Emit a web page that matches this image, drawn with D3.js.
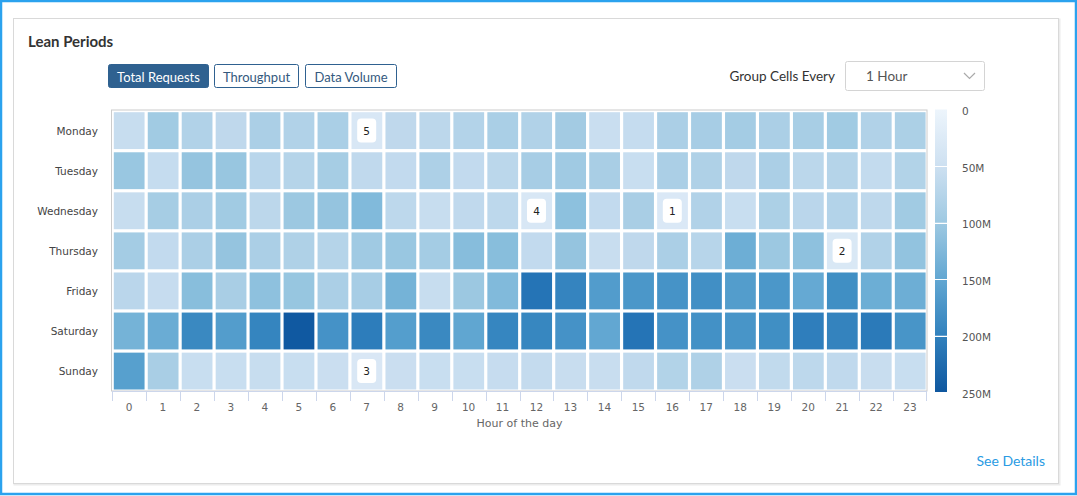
<!DOCTYPE html>
<html>
<head>
<meta charset="utf-8">
<script src="https://cdn.jsdelivr.net/npm/d3@7/dist/d3.min.js"></script>
<style>
body { margin: 0; background: #fff; }
svg { display: block; }
</style>
</head>
<body>
<svg id="chart" width="1077" height="496"></svg>
<script>
(function(){
'use strict';

var days = ['Monday', 'Tuesday', 'Wednesday', 'Thursday', 'Friday', 'Saturday', 'Sunday'];
var hours = ['0', '1', '2', '3', '4', '5', '6', '7', '8', '9', '10', '11',
             '12', '13', '14', '15', '16', '17', '18', '19', '20', '21', '22', '23'];

// total requests per hour, in millions
var monday    = [58, 97, 82, 68, 88, 82, 89, 34, 68, 71, 80, 89, 82, 96, 55, 60, 88, 92, 95, 88, 91, 97, 82, 87];
var tuesday   = [104, 60, 108, 105, 74, 78, 93, 66, 64, 86, 64, 72, 92, 98, 90, 56, 88, 84, 68, 88, 72, 78, 63, 81];
var wednesday = [58, 93, 88, 97, 71, 102, 108, 124, 70, 58, 66, 70, 33, 114, 64, 90, 30, 82, 56, 87, 73, 80, 69, 97];
var thursday  = [95, 64, 88, 108, 88, 84, 78, 98, 104, 95, 119, 118, 64, 108, 57, 68, 88, 76, 140, 102, 113, 31, 82, 110];
var friday    = [73, 59, 118, 90, 113, 106, 88, 92, 134, 58, 102, 124, 215, 196, 165, 172, 177, 182, 164, 172, 147, 183, 141, 140];
var saturday  = [134, 143, 190, 164, 195, 248, 178, 205, 163, 190, 152, 194, 193, 178, 150, 215, 178, 180, 175, 183, 203, 197, 208, 175];
var sunday    = [160, 90, 56, 56, 58, 56, 54, 32, 54, 56, 56, 59, 62, 57, 57, 66, 81, 84, 54, 65, 70, 66, 57, 56];

var leanRanks = [
    {day: 'Wednesday', hour: '16', rank: 1},
    {day: 'Thursday', hour: '21', rank: 2},
    {day: 'Sunday', hour: '7', rank: 3},
    {day: 'Wednesday', hour: '12', rank: 4},
    {day: 'Monday', hour: '7', rank: 5}
];

var legendTicks = [0, 50, 100, 150, 200, 250];
var legendLabels = ['0', '50M', '100M', '150M', '200M', '250M'];
var modes = ['Total Requests', 'Throughput', 'Data Volume'];

var rows = [monday, tuesday, wednesday, thursday, friday, saturday, sunday];
var cells = [];
rows.forEach(function(row, d) {
    row.forEach(function(v, h) {
        cells.push({day: days[d], hour: hours[h], value: v});
    });
});

var uiFont = 'Lato, "Open Sans", sans-serif',
    chartFont = '"DejaVu Sans", Verdana, sans-serif';

var svg = d3.select('#chart');

// outer selection frame and card
svg.append('rect')
    .attr('x', 1).attr('y', 1).attr('width', 1075).attr('height', 493)
    .attr('fill', 'none').attr('stroke', '#2ba2ee').attr('stroke-width', 2.5);
svg.append('rect')
    .attr('x', 14.5).attr('y', 19.5).attr('width', 1045).attr('height', 465)
    .attr('fill', 'none').attr('stroke', '#ececec').attr('stroke-width', 2);
svg.append('rect')
    .attr('x', 13.5).attr('y', 18.5).attr('width', 1045).attr('height', 465)
    .attr('fill', '#fff').attr('stroke', '#d9d9d9');

svg.append('text')
    .attr('x', 28).attr('y', 47)
    .attr('font-family', uiFont).attr('font-size', 15).attr('font-weight', 700)
    .attr('fill', '#333')
    .text('Lean Periods');

// mode buttons
var btnX = [108, 214, 305], btnW = [101, 85, 92];
var btns = svg.selectAll('g.btn').data(modes).enter().append('g')
    .attr('class', 'btn')
    .attr('transform', function(d, i) { return 'translate(' + btnX[i] + ',64)'; });
btns.append('rect')
    .attr('x', 0.5).attr('y', 0.5)
    .attr('width', function(d, i) { return btnW[i] - 1; })
    .attr('height', 23)
    .attr('rx', 2)
    .attr('fill', function(d, i) { return i === 0 ? '#2f6190' : '#fff'; })
    .attr('stroke', '#2f6190');
btns.append('text')
    .attr('x', function(d, i) { return btnW[i] / 2; })
    .attr('y', 12.5)
    .attr('text-anchor', 'middle').attr('dominant-baseline', 'central')
    .attr('font-family', uiFont).attr('font-size', 13)
    .attr('fill', function(d, i) { return i === 0 ? '#fff' : '#34597e'; })
    .text(function(d) { return d; });

// group cells dropdown
svg.append('text')
    .attr('x', 835).attr('y', 75.5)
    .attr('text-anchor', 'end').attr('dominant-baseline', 'central')
    .attr('font-family', uiFont).attr('font-size', 13.5).attr('fill', '#333')
    .text('Group Cells Every');
svg.append('rect')
    .attr('x', 845.5).attr('y', 61.5).attr('width', 139).attr('height', 29)
    .attr('rx', 2).attr('fill', '#fff').attr('stroke', '#d4d4d4');
svg.append('text')
    .attr('x', 866).attr('y', 76)
    .attr('dominant-baseline', 'central')
    .attr('font-family', uiFont).attr('font-size', 13.5).attr('fill', '#555')
    .text('1 Hour');
svg.append('path')
    .attr('d', 'M964,73 L969.5,78.5 L975,73')
    .attr('fill', 'none').attr('stroke', '#aaa').attr('stroke-width', 1.2);

// heatmap
var x = d3.scaleBand().domain(hours).range([112, 927]),
    y = d3.scaleBand().domain(days).range([110.5, 391]);

var color = function(v) {
    var t = Math.max(0, Math.min(v, 250)) / 250;
    return d3.interpolateBlues(0.05 + 0.8 * t);
};

svg.append('rect')
    .attr('x', 111.5).attr('y', 110).attr('width', 815.5).attr('height', 281)
    .attr('fill', 'none').attr('stroke', '#cccccc');

svg.append('g').attr('class', 'cells')
    .selectAll('rect').data(cells).enter().append('rect')
    .attr('x', function(d) { return x(d.hour) + 1.8; })
    .attr('y', function(d) { return y(d.day) + 1.7; })
    .attr('width', x.bandwidth() - 3.2)
    .attr('height', y.bandwidth() - 3.2)
    .attr('fill', function(d) { return color(d.value); });

var badges = svg.append('g').attr('class', 'badges')
    .selectAll('g').data(leanRanks).enter().append('g')
    .attr('transform', function(d) {
        return 'translate(' + (x(d.hour) + x.bandwidth() / 2) + ',' + (y(d.day) + y.bandwidth() / 2) + ')';
    });
badges.append('rect')
    .attr('x', -9.5).attr('y', -12).attr('width', 19).attr('height', 24)
    .attr('rx', 4).attr('fill', '#fff');
badges.append('text')
    .attr('text-anchor', 'middle').attr('dominant-baseline', 'central')
    .attr('font-family', chartFont).attr('font-size', 10.5).attr('fill', '#222')
    .text(function(d) { return d.rank; });

// x axis
var xAxis = svg.append('g').attr('class', 'x-axis');
xAxis.append('line')
    .attr('x1', 112).attr('x2', 927).attr('y1', 391.5).attr('y2', 391.5)
    .attr('stroke', '#ccd6eb');
xAxis.selectAll('line.tick').data(hours.concat(['end'])).enter().append('line')
    .attr('class', 'tick')
    .attr('x1', function(d) { return d === 'end' ? 926.5 : Math.round(x(d)) + 0.5; })
    .attr('x2', function(d) { return d === 'end' ? 926.5 : Math.round(x(d)) + 0.5; })
    .attr('y1', 391).attr('y2', 401)
    .attr('stroke', '#ccd6eb');
xAxis.selectAll('text').data(hours).enter().append('text')
    .attr('x', function(d) { return x(d) + x.bandwidth() / 2; })
    .attr('y', 406.5)
    .attr('text-anchor', 'middle').attr('dominant-baseline', 'central')
    .attr('font-family', chartFont).attr('font-size', 10.5).attr('fill', '#666')
    .text(function(d) { return d; });
svg.append('text')
    .attr('x', 519.5).attr('y', 423.5)
    .attr('text-anchor', 'middle').attr('dominant-baseline', 'central')
    .attr('font-family', chartFont).attr('font-size', 11).attr('fill', '#666')
    .text('Hour of the day');

// y axis
svg.append('g').attr('class', 'y-axis')
    .selectAll('text').data(days).enter().append('text')
    .attr('x', 98)
    .attr('y', function(d) { return y(d) + y.bandwidth() / 2; })
    .attr('text-anchor', 'end').attr('dominant-baseline', 'central')
    .attr('font-family', chartFont).attr('font-size', 10.5).attr('fill', '#444')
    .text(function(d) { return d; });

// colour legend
var yL = d3.scaleLinear().domain([0, 250]).range([109.5, 392]);
var defs = svg.append('defs');
var bands = d3.pairs(legendTicks);
bands.forEach(function(b, i) {
    var grad = defs.append('linearGradient')
        .attr('id', 'band' + i)
        .attr('x1', 0).attr('x2', 0).attr('y1', 0).attr('y2', 1);
    grad.append('stop').attr('offset', '0%').attr('stop-color', color(b[0]));
    grad.append('stop').attr('offset', '100%').attr('stop-color', color(b[1]));
});
var legend = svg.append('g').attr('class', 'legend');
legend.selectAll('rect').data(bands).enter().append('rect')
    .attr('x', 935).attr('width', 12)
    .attr('y', function(d) { return yL(d[0]); })
    .attr('height', function(d) { return yL(d[1]) - yL(d[0]); })
    .attr('fill', function(d, i) { return 'url(#band' + i + ')'; });
legend.selectAll('line').data(legendTicks.slice(1, -1)).enter().append('line')
    .attr('x1', 935).attr('x2', 947)
    .attr('y1', function(d) { return Math.round(yL(d)) + 0.5; })
    .attr('y2', function(d) { return Math.round(yL(d)) + 0.5; })
    .attr('stroke', '#fff');
legend.selectAll('text').data(legendTicks).enter().append('text')
    .attr('x', 962)
    .attr('y', function(d) { return yL(d) + 1.5; })
    .attr('dominant-baseline', 'central')
    .attr('font-family', chartFont).attr('font-size', 10.5).attr('fill', '#555')
    .text(function(d, i) { return legendLabels[i]; });

svg.append('text')
    .attr('x', 1045).attr('y', 460)
    .attr('text-anchor', 'end').attr('dominant-baseline', 'central')
    .attr('font-family', uiFont).attr('font-size', 14).attr('fill', '#2a9be3')
    .text('See Details');

})();
</script>
</body>
</html>
